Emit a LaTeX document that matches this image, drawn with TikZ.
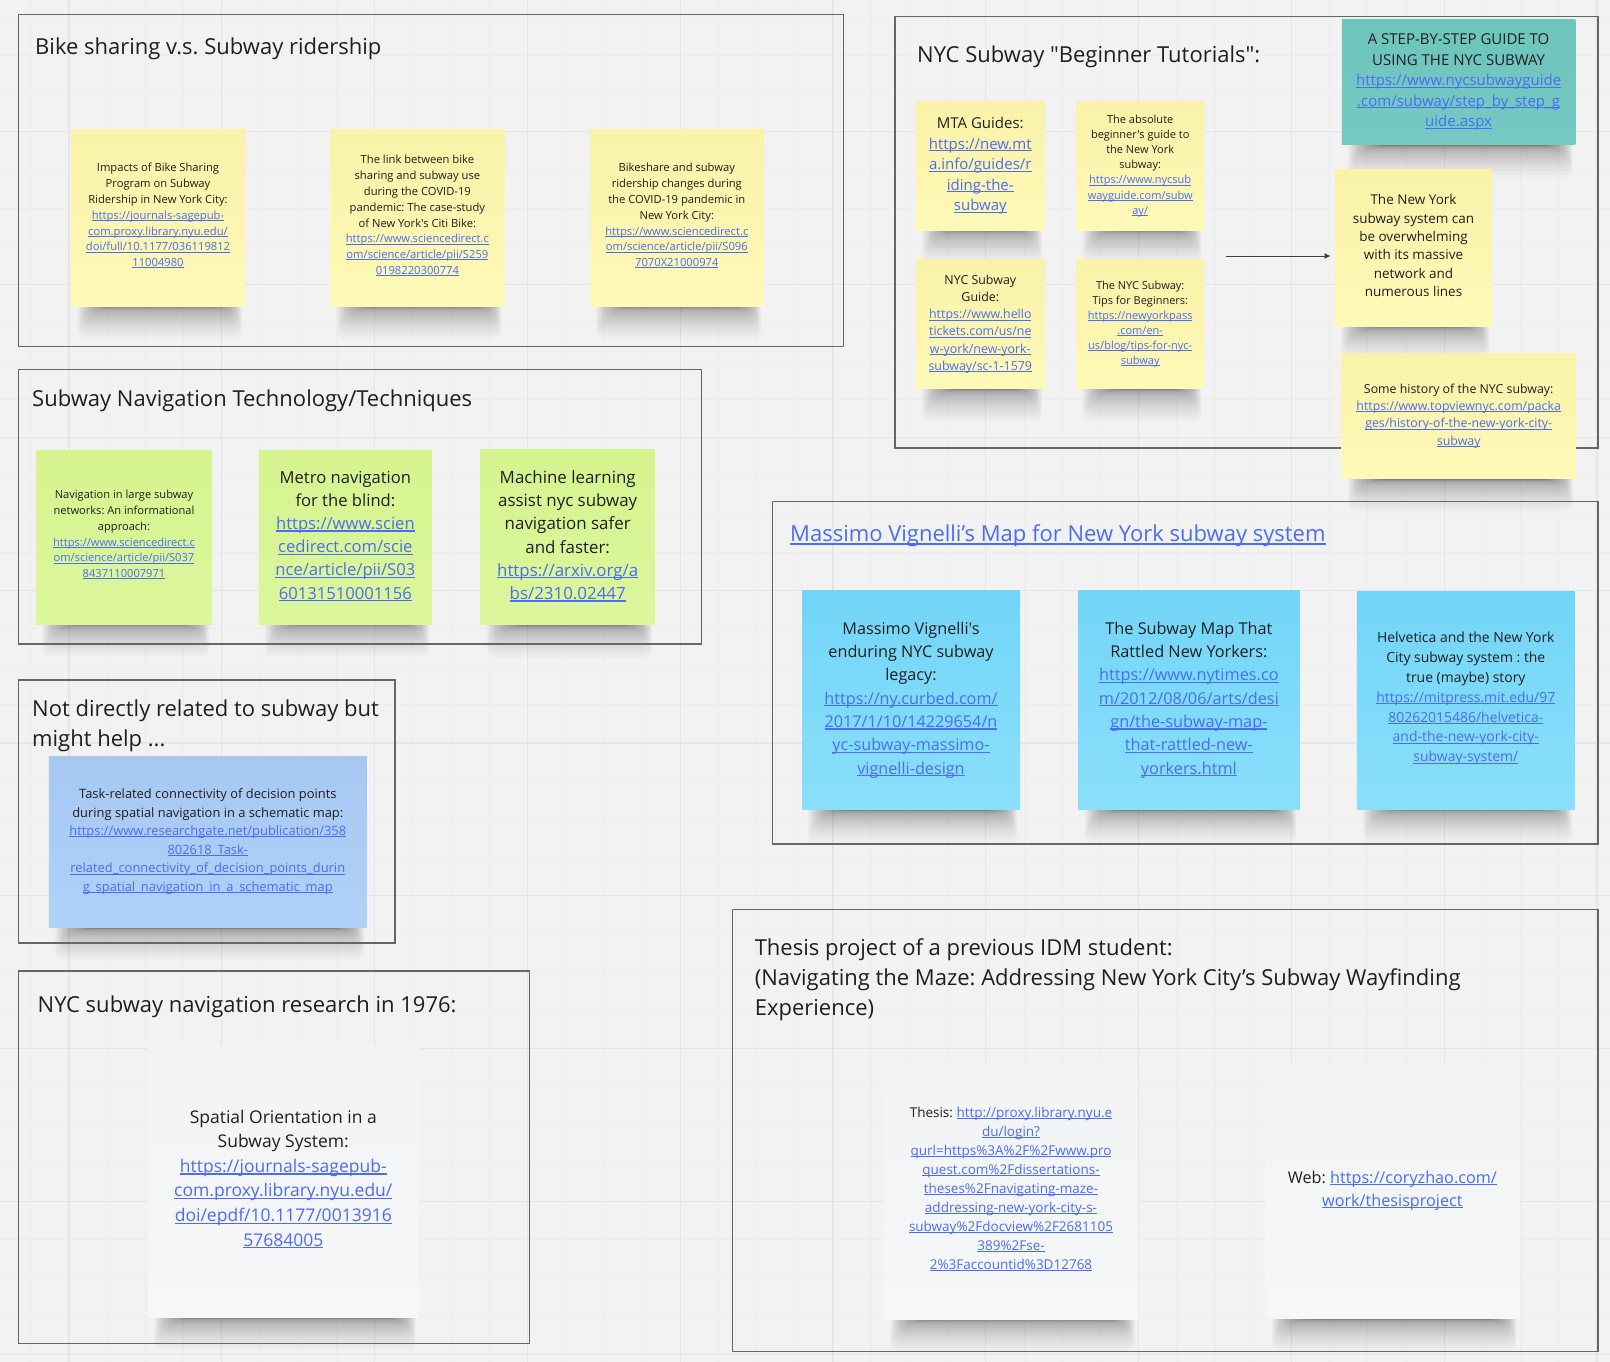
\documentclass[tikz,border=0pt]{standalone}
\usepackage{fontspec}
\setmainfont{Open Sans}[Ligatures=TeXOff]
\frenchspacing
\usetikzlibrary{positioning}
\usetikzlibrary{arrows.meta}
\definecolor{paper}{HTML}{F2F2F2}
\definecolor{gridminor}{HTML}{EDEDED}
\definecolor{gridmajor}{HTML}{E5E5E5}
\definecolor{frameline}{HTML}{666666}
\definecolor{ink}{HTML}{1F1F1F}
\definecolor{linkblue}{HTML}{4A6CF7}
\pgfdeclarelayer{paperlayer}
\pgfdeclarelayer{background}
\pgfsetlayers{paperlayer,background,main}
\tikzset{textsize/.style 2 args={font=\fontsize{#1}{#2}\selectfont}}
\tikzset{lift/.style={execute at end node={\rule[-#1pt]{0pt}{0pt}}}}
\tikzstyle{frame} = [draw=frameline, line width=1.3pt]
\tikzstyle{title} = [anchor=west, align=left, inner sep=0pt, text=ink, textsize={22}{30}]
\tikzstyle{note} = [rectangle, align=center, inner sep=0pt, text=ink]
\tikzstyle{yellow} = [note, top color={rgb,255:red,249;green,242;blue,168}, bottom color={rgb,255:red,255;green,249;blue,184}]
\tikzstyle{lime} = [note, top color={rgb,255:red,213;green,244;blue,143}, bottom color={rgb,255:red,220;green,247;blue,156}]
\tikzstyle{pale} = [note, top color={rgb,255:red,166;green,200;blue,242}, bottom color={rgb,255:red,176;green,209;blue,248}]
\tikzstyle{sky} = [note, top color={rgb,255:red,114;green,213;blue,247}, bottom color={rgb,255:red,138;green,223;blue,251}]
\tikzstyle{teal} = [note, top color={rgb,255:red,109;green,197;blue,188}, bottom color={rgb,255:red,118;green,201;blue,194}]
\tikzstyle{blank} = [note, top color={rgb,255:red,242;green,243;blue,244}, bottom color={rgb,255:red,246;green,247;blue,249}]
\tikzset{>={Latex[length=6pt,width=6pt]}}
\newcommand{\lnk}[1]{%
  % Blue text with one straight rule under it.
  \leavevmode{\color{linkblue}\setbox0=\hbox{#1}\rlap{\rule[-0.13em]{\wd0}{0.07em}}\box0}%
}
\newcommand{\castshadow}[1]{ %
  % Stack faint bands under all notes #1.
  \begin{pgfonlayer}{background}
    \foreach \n in {#1} { %
      \foreach \i in {0,...,27} { %
        \fill[black, opacity=0.018, rounded corners=7pt]
          ([xshift={36-1.1*\i}, yshift=8]\n.south west) rectangle
          ([xshift={-24+0.78*\i}, yshift={-1-0.0016*\i*\i*\i}]\n.south east);
      } ;
    } ;
  \end{pgfonlayer}
}

\begin{document}
\begin{tikzpicture}[x=1pt, y=-1pt]
  \useasboundingbox (0,0) rectangle (1610,1362);
  \begin{pgfonlayer}{paperlayer}
    \fill[paper] (0,0) rectangle (1610,1362);
    \foreach \g in {0,...,41} {
      \draw[gridminor, line width=1pt] ({30.8+38.2*\g},0) -- ({30.8+38.2*\g},1362);
    }
    \foreach \g in {0,...,35} {
      \draw[gridminor, line width=1pt] (0,{17.2+38.2*\g}) -- (1610,{17.2+38.2*\g});
    }
    \foreach \g in {0,...,10} {
      \draw[gridmajor, line width=1.3pt] ({69+152.8*\g},0) -- ({69+152.8*\g},1362);
    }
    \foreach \g in {0,...,8} {
      \draw[gridmajor, line width=1.3pt] (0,{131.8+152.8*\g}) -- (1610,{131.8+152.8*\g});
    }
  \end{pgfonlayer}

  % frames
  \draw[frame] (18.6,14.3) rectangle (843.6,346.7);
  \draw[frame] (894.9,16.7) rectangle (1597.9,448);
  \draw[frame] (18.5,369.6) rectangle (701.6,644);
  \draw[frame] (18.5,680) rectangle (394.9,942.9);
  \draw[frame] (18.6,971) rectangle (529.6,1343.3);
  \draw[frame] (772.5,501.3) rectangle (1598,844);
  \draw[frame] (732.5,909.7) rectangle (1598,1351.7);

  % bike sharing
  \node[title] (biketitle) at (35,49) {Bike sharing v.s. Subway ridership};
  \node[yellow, lift=6, textsize={11.2}{15.8}, minimum width=174pt, minimum height=176pt] (bikeone) at (158,218)
    {Impacts of Bike Sharing\\Program on Subway\\Ridership in New York City:\\\lnk{https://journals-sagepub-}\\\lnk{com.proxy.library.nyu.edu/}\\\lnk{doi/full/10.1177/036119812}\\\lnk{11004980}};
  \node[yellow, lift=6, textsize={11.2}{15.8}, minimum width=174pt, minimum height=176pt, right=85pt of bikeone] (biketwo)
    {The link between bike\\sharing and subway use\\during the COVID-19\\pandemic: The case-study\\of New York's Citi Bike:\\\lnk{https://www.sciencedirect.c}\\\lnk{om/science/article/pii/S259}\\\lnk{0198220300774}};
  \node[yellow, lift=6, textsize={11.2}{15.8}, minimum width=174pt, minimum height=176pt, right=85pt of biketwo] (bikethree)
    {Bikeshare and subway\\ridership changes during\\the COVID-19 pandemic in\\New York City:\\\lnk{https://www.sciencedirect.c}\\\lnk{om/science/article/pii/S096}\\\lnk{7070X21000974}};
  \castshadow{bikeone,biketwo,bikethree}

  % beginner tutorials
  \node[title] (begintitle) at (917,56.3) {NYC Subway "Beginner Tutorials":};
  \node[yellow, textsize={15}{20.5}, minimum width=129pt, minimum height=128pt] (mta) at (980.3,166)
    {MTA Guides:\\\lnk{https://new.mt}\\\lnk{a.info/guides/r}\\\lnk{iding-the-}\\\lnk{subway}};
  \node[yellow, lift=2, textsize={11}{15.1}, minimum width=128pt, minimum height=128pt, right=31pt of mta] (absolute)
    {The absolute\\beginner's guide to\\the New York\\subway:\\\lnk{https://www.nycsub}\\\lnk{wayguide.com/subw}\\\lnk{ay/}};
  \node[yellow, lift=2, textsize={12.4}{17.1}, minimum width=129pt, minimum height=129pt, below=29.3pt of mta] (guide)
    {NYC Subway\\Guide:\\\lnk{https://www.hello}\\\lnk{tickets.com/us/ne}\\\lnk{w-york/new-york-}\\\lnk{subway/sc-1-1579}};
  \node[yellow, lift=2, textsize={11}{15.1}, minimum width=128pt, minimum height=129pt, below=29.3pt of absolute] (tips)
    {The NYC Subway:\\Tips for Beginners:\\\lnk{https://newyorkpass}\\\lnk{.com/en-}\\\lnk{us/blog/tips-for-nyc-}\\\lnk{subway}};
  \node[teal, textsize={15}{20.5}, minimum width=233.7pt, minimum height=125.3pt] (stepguide) at (1458.6,82.3)
    {A STEP-BY-STEP GUIDE TO\\USING THE NYC SUBWAY\\\lnk{https://www.nycsubwayguide}\\\lnk{.com/subway/step\_by\_step\_g}\\\lnk{uide.aspx}};
  \node[yellow, lift=5, textsize={13.5}{18.3}, minimum width=157.4pt, minimum height=156.3pt] (massive) at (1413.5,248)
    {The New York\\subway system can\\be overwhelming\\with its massive\\network and\\numerous lines};
  \node[yellow, textsize={12.35}{17.2}, minimum width=234.6pt, minimum height=125.7pt] (history) at (1458.7,416)
    {Some history of the NYC subway:\\\lnk{https://www.topviewnyc.com/packa}\\\lnk{ges/history-of-the-new-york-city-}\\\lnk{subway}};
  \castshadow{mta,absolute,guide,tips,stepguide,massive,history}
  \coordinate (arrowstart) at (1226,256);
  \draw[->, draw=ink!85, line width=1pt, shorten >=4pt] (arrowstart) -- (arrowstart -| massive.west);

  % navigation techniques
  \node[title] (navtitle) at (32,400.5) {Subway Navigation Technology/Techniques};
  \node[lime, lift=6, textsize={11.1}{15.8}, minimum width=176pt, minimum height=174pt] (navone) at (124,537)
    {Navigation in large subway\\networks: An informational\\approach:\\\lnk{https://www.sciencedirect.c}\\\lnk{om/science/article/pii/S037}\\\lnk{8437110007971}};
  \node[lime, lift=4, textsize={16.6}{23.2}, minimum width=173pt, minimum height=174pt, right=46.5pt of navone] (navtwo)
    {Metro navigation\\for the blind:\\\lnk{https://www.scien}\\\lnk{cedirect.com/scie}\\\lnk{nce/article/pii/S03}\\\lnk{60131510001156}};
  \node[lime, lift=4, textsize={16.9}{23.2}, minimum width=174pt, minimum height=175pt, right=48.4pt of navtwo] (navthree)
    {Machine learning\\assist nyc subway\\navigation safer\\and faster:\\\lnk{https://arxiv.org/a}\\\lnk{bs/2310.02447}};
  \castshadow{navone,navtwo,navthree}

  % not directly related
  \node[title] (othertitle) at (32,726) {Not directly related to subway but\\might help ...};
  \node[pale, lift=4, textsize={12.9}{18.6}, minimum width=318pt, minimum height=171pt] (task) at (207.8,842)
    {Task-related connectivity of decision points\\during spatial navigation in a schematic map:\\\lnk{https://www.researchgate.net/publication/358}\\\lnk{802618\_Task-}\\\lnk{related\_connectivity\_of\_decision\_points\_durin}\\\lnk{g\_spatial\_navigation\_in\_a\_schematic\_map}};
  \castshadow{task}

  % research in 1976
  \node[title] (oldtitle) at (37.5,1006.5) {NYC subway navigation research in 1976:};
  \node[blank, lift=8, textsize={17.5}{24.6}, minimum width=270.6pt, minimum height=270.6pt] (spatial) at (283.3,1182)
    {Spatial Orientation in a\\Subway System:\\\lnk{https://journals-sagepub-}\\\lnk{com.proxy.library.nyu.edu/}\\\lnk{doi/epdf/10.1177/0013916}\\\lnk{57684005}};
  \castshadow{spatial}

  % vignelli map
  \node[title] (maptitle) at (790,536) {\lnk{Massimo Vignelli’s Map for New York subway system}};
  \node[sky, lift=4, textsize={16.2}{23.3}, minimum width=218pt, minimum height=219pt] (mapone) at (911,700)
    {Massimo Vignelli's\\enduring NYC subway\\legacy:\\\lnk{https://ny.curbed.com/}\\\lnk{2017/1/10/14229654/n}\\\lnk{yc-subway-massimo-}\\\lnk{vignelli-design}};
  \node[sky, lift=4, textsize={16.3}{23.3}, minimum width=221pt, minimum height=219pt, right=58pt of mapone] (maptwo)
    {The Subway Map That\\Rattled New Yorkers:\\\lnk{https://www.nytimes.co}\\\lnk{m/2012/08/06/arts/desi}\\\lnk{gn/the-subway-map-}\\\lnk{that-rattled-new-}\\\lnk{yorkers.html}};
  \node[sky, lift=6, textsize={13.95}{19.8}, minimum width=218pt, minimum height=218pt, right=57pt of maptwo] (mapthree)
    {Helvetica and the New York\\City subway system : the\\true (maybe) story\\\lnk{https://mitpress.mit.edu/97}\\\lnk{80262015486/helvetica-}\\\lnk{and-the-new-york-city-}\\\lnk{subway-system/}};
  \castshadow{mapone,maptwo,mapthree}

  % previous thesis
  \node[title] (thesistitle) at (754.6,979.7) {Thesis project of a previous IDM student:\\(Navigating the Maze: Addressing New York City’s Subway Wayfinding\\Experience)};
  \node[blank, lift=6, textsize={13.5}{19}, minimum width=254pt, minimum height=255pt] (thesis) at (1011,1191.5)
    {Thesis: \lnk{http://proxy.library.nyu.e}\\\lnk{du/login?}\\\lnk{qurl=https\%3A\%2F\%2Fwww.pro}\\\lnk{quest.com\%2Fdissertations-}\\\lnk{theses\%2Fnavigating-maze-}\\\lnk{addressing-new-york-city-s-}\\\lnk{subway\%2Fdocview\%2F2681105}\\\lnk{389\%2Fse-}\\\lnk{2\%3Faccountid\%3D12768}};
  \node[blank, lift=6, textsize={16.2}{23}, minimum width=254pt, minimum height=254pt, right=127pt of thesis] (web)
    {Web: \lnk{https://coryzhao.com/}\\\lnk{work/thesisproject}};
  \castshadow{thesis,web}
\end{tikzpicture}
\end{document}
